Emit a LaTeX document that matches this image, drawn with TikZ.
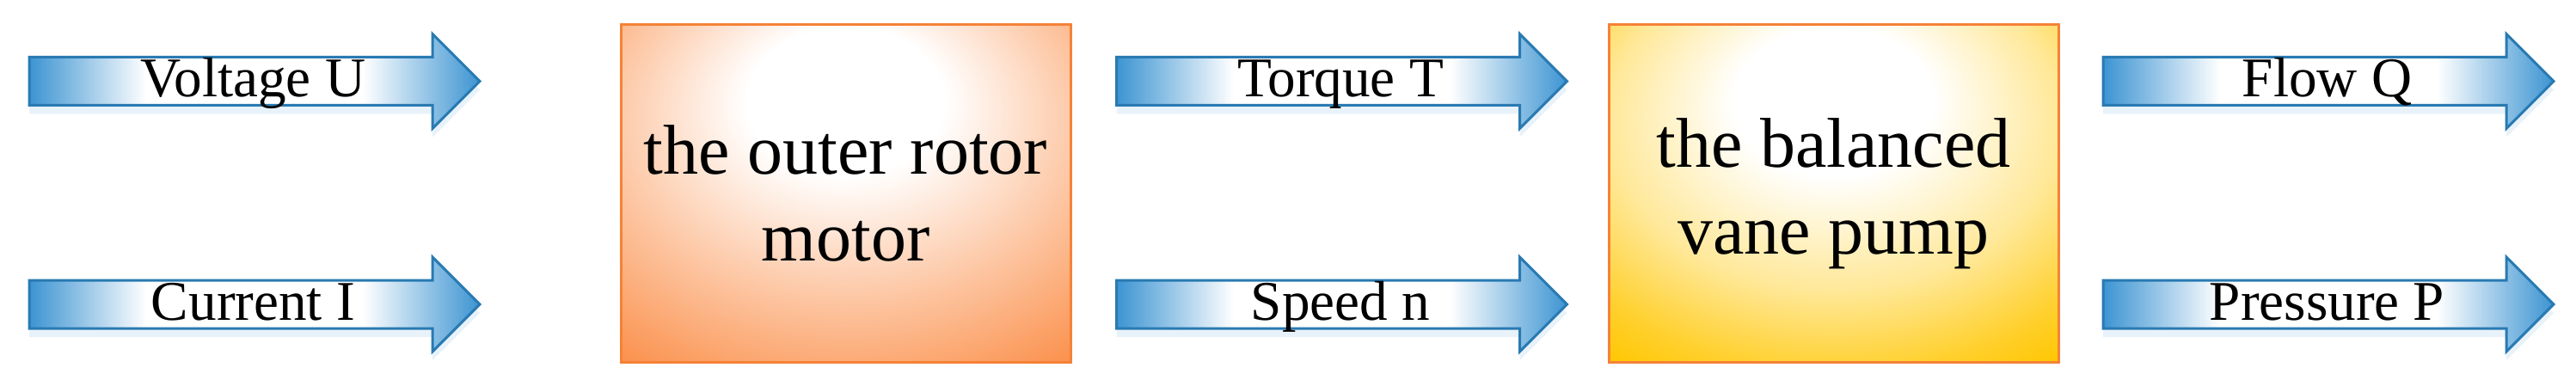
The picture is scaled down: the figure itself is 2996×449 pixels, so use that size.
\documentclass[tikz,border=0pt]{standalone}
\usepackage{fontspec}
\setmainfont{Liberation Serif}
\usetikzlibrary{shapes.arrows,shadows}

\definecolor{arrowblue}{RGB}{60,148,210}
\definecolor{arrowline}{RGB}{41,122,178}
\definecolor{motororange}{RGB}{250,122,40}
\definecolor{pumpyellow}{RGB}{255,198,0}
\definecolor{boxline}{RGB}{245,130,55}

\pgfdeclarehorizontalshading{arrowshade}{100bp}{color(0bp)=(arrowblue); color(25bp)=(arrowblue); color(38bp)=(white); color(62bp)=(white); color(75bp)=(arrowblue); color(100bp)=(arrowblue)}
\pgfdeclareradialshading{motorshade}{\pgfpoint{0bp}{16bp}}{color(0bp)=(white); color(11bp)=(white); color(27bp)=(motororange!45!white); color(39bp)=(motororange!78!white); color(47bp)=(motororange); color(75bp)=(motororange)}
\pgfdeclareradialshading{pumpshade}{\pgfpoint{0bp}{16bp}}{color(0bp)=(white); color(11bp)=(white); color(25bp)=(pumpyellow!40!white); color(35bp)=(pumpyellow!82!white); color(41bp)=(pumpyellow); color(75bp)=(pumpyellow)}

\tikzset{every picture/.style={line width=0.75pt}}
\tikzset{
	flowarrow/.style={single arrow, single arrow head extend=6.75pt, minimum height=131pt,
		inner xsep=0pt, inner ysep=0pt, text height=11.25pt, text depth=2pt,
		draw=arrowline, shading=arrowshade, font=\fontsize{16.3}{18}\selectfont,
		execute at begin node=\hspace*{6.25pt},
		drop shadow={shadow xshift=0pt, shadow yshift=-2.5pt, fill=arrowblue!60, opacity=0.2}},
	blockbox/.style={rectangle, draw=boxline, minimum width=130.75pt, minimum height=98pt,
		align=center, font=\fontsize{20.5}{25.25}\selectfont}}

\begin{document}
\begin{tikzpicture}[x=0.25pt,y=0.25pt,yscale=-1,xscale=1]
	\useasboundingbox (0,0) rectangle (2996,449);

	%Shape: Rectangle
	\draw (983.5,225) node [blockbox, shading=motorshade] (motor) {the outer rotor\\motor};
	%Shape: Rectangle
	\draw (2132.5,225) node [blockbox, shading=pumpshade] (pump) {the balanced\\vane pump};

	%Right Arrow
	\draw (282,94.5) node [flowarrow] (volt) {Voltage U};
	%Right Arrow
	\draw (282,354) node [flowarrow] (curr) {Current I};
	%Right Arrow
	\draw (1546.5,94.5) node [flowarrow] (torq) {Torque T};
	%Right Arrow
	\draw (1546.5,354) node [flowarrow] (speed) {Speed n};
	%Right Arrow
	\draw (2694,94.5) node [flowarrow] (flow) {Flow Q};
	%Right Arrow
	\draw (2694,354) node [flowarrow] (press) {Pressure P};

\end{tikzpicture}
\end{document}
